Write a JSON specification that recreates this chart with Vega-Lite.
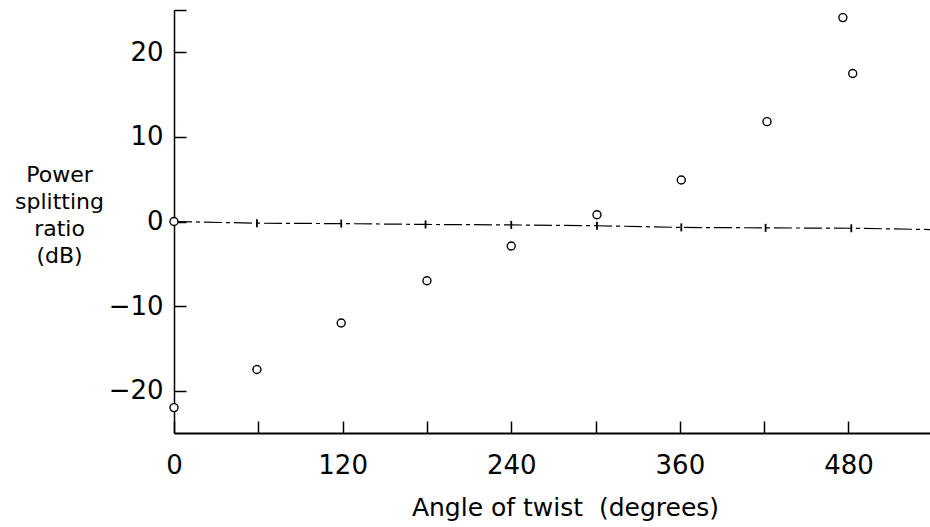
{
  "$schema": "https://vega.github.io/schema/vega-lite/v6.json",
  "autosize": "none",
  "width": 756,
  "height": 423,
  "padding": {"left": 174, "top": 10, "right": 0, "bottom": 94},
  "background": "white",
  "config": {
    "view": {"stroke": null},
    "font": "DejaVu Sans",
    "axis": {
      "grid": false,
      "domainColor": "black",
      "tickColor": "black",
      "labelColor": "black",
      "titleColor": "black",
      "labelFont": "DejaVu Sans",
      "titleFont": "DejaVu Sans",
      "labelFontSize": 26,
      "titleFontSize": 25,
      "titleFontWeight": "normal"
    }
  },
  "datasets": {
    "circles": [
      {"angle": 0, "ratio": 0},
      {"angle": 0, "ratio": -22},
      {"angle": 59, "ratio": -17.5},
      {"angle": 119, "ratio": -12},
      {"angle": 180, "ratio": -7},
      {"angle": 240, "ratio": -2.9},
      {"angle": 301, "ratio": 0.8},
      {"angle": 361, "ratio": 4.9},
      {"angle": 422, "ratio": 11.8},
      {"angle": 483, "ratio": 17.5},
      {"angle": 476, "ratio": 24.1}
    ],
    "crosses": [
      {"angle": 59, "ratio": -0.2},
      {"angle": 119, "ratio": -0.25},
      {"angle": 179, "ratio": -0.35},
      {"angle": 240, "ratio": -0.4},
      {"angle": 301, "ratio": -0.5},
      {"angle": 361, "ratio": -0.7},
      {"angle": 421, "ratio": -0.75},
      {"angle": 482, "ratio": -0.8}
    ],
    "zeroline": [
      {"angle": 0, "ratio": 0},
      {"angle": 59, "ratio": -0.2},
      {"angle": 119, "ratio": -0.25},
      {"angle": 179, "ratio": -0.35},
      {"angle": 240, "ratio": -0.4},
      {"angle": 301, "ratio": -0.5},
      {"angle": 361, "ratio": -0.7},
      {"angle": 421, "ratio": -0.75},
      {"angle": 482, "ratio": -0.8},
      {"angle": 538, "ratio": -0.95}
    ]
  },
  "encoding": {
    "x": {
      "field": "angle",
      "type": "quantitative",
      "scale": {"domain": [0, 538], "nice": false, "zero": false},
      "axis": {
        "title": "Angle of twist\u00a0 (degrees)",
        "values": [0, 60, 120, 180, 240, 300, 360, 420, 480],
        "labelExpr": "datum.value % 120 == 0 ? datum.label : ''",
        "tickSize": -12,
        "tickWidth": 1.5,
        "domainWidth": 2,
        "labelPadding": 31,
        "labelFlush": false,
        "labelOverlap": false,
        "titleX": 391,
        "titleY": 82,
        "titleAnchor": "middle",
        "titleAlign": "center",
        "titleBaseline": "alphabetic"
      }
    },
    "y": {
      "field": "ratio",
      "type": "quantitative",
      "scale": {"domain": [-25, 25], "nice": false, "zero": false},
      "axis": {
        "title": ["Power", "splitting", "ratio", "(dB)"],
        "titleFontSize": 22,
        "values": [-20, -10, 0, 10, 20, 25],
        "labelExpr": "datum.value == 25 ? '' : datum.label",
        "tickSize": -12,
        "tickWidth": 1.5,
        "domainWidth": 1.5,
        "labelPadding": 23,
        "labelFlush": false,
        "labelOverlap": false,
        "titleAngle": 0,
        "titleX": -115,
        "titleY": 154,
        "titleAlign": "center",
        "titleBaseline": "top",
        "titleLineHeight": 27
      }
    }
  },
  "layer": [
    {
      "data": {"name": "zeroline"},
      "mark": {"type": "line", "color": "black", "strokeWidth": 1.2, "strokeDash": [18, 4, 4, 4]}
    },
    {
      "data": {"name": "crosses"},
      "mark": {"type": "point", "shape": "M0,-1L0,1", "size": 64, "stroke": "black", "strokeWidth": 1.8, "filled": false, "opacity": 1}
    },
    {
      "data": {"name": "circles"},
      "mark": {"type": "point", "shape": "circle", "size": 64, "stroke": "black", "strokeWidth": 1.4, "fill": "white", "filled": false, "fillOpacity": 1, "opacity": 1}
    }
  ]
}
